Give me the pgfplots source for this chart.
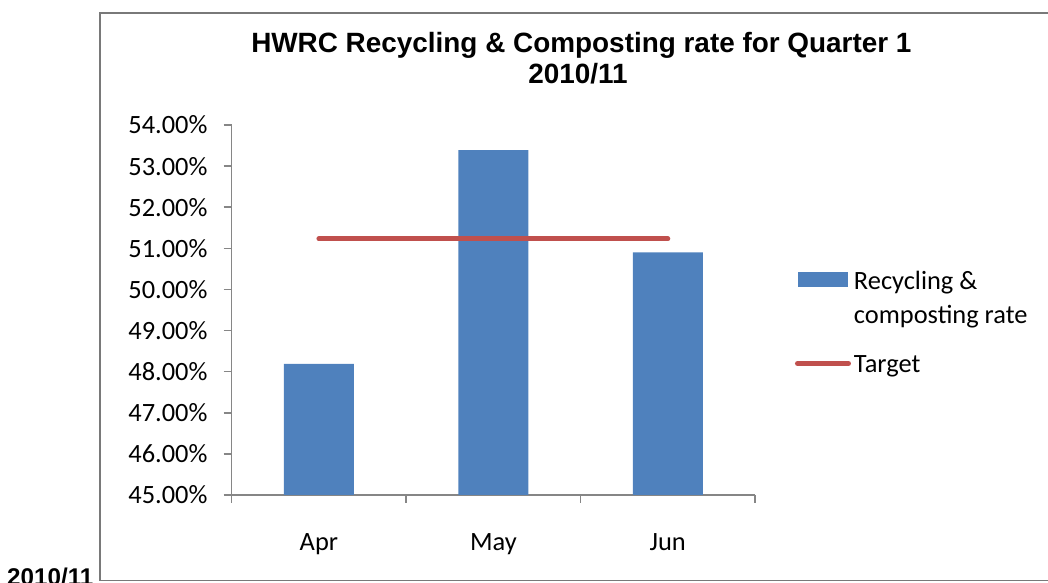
\documentclass[border=0pt]{standalone}
\usepackage{fontspec}
\setmainfont{Carlito}
\newfontfamily\arialfont{Liberation Sans}
\usepackage{pgfplots}
\pgfplotsset{compat=1.18}
\definecolor{barblue}{HTML}{4F81BD}
\definecolor{tgtred}{HTML}{C0504D}
\definecolor{axgray}{HTML}{868686}
\newcommand\lbl{\fontsize{26.5}{34}\selectfont}
\begin{document}
\begin{tikzpicture}[x=1bp,y=1bp]
\path[use as bounding box] (0,0) rectangle (1048,583);
\draw[axgray!90!black, line width=1.5bp] (1050,570) -- (100,570) -- (100,2.3) -- (1050,2.3);
\node[anchor=base west, font=\arialfont\bfseries\fontsize{24.3}{29}\selectfont, inner sep=0] at (7,-2.4) {2010/11};
\node[anchor=base, font=\arialfont\bfseries\fontsize{28}{34}\selectfont, inner sep=0] at (581.4,530) {HWRC Recycling \& Composting rate for Quarter 1};
\node[anchor=base, font=\arialfont\bfseries\fontsize{28}{34}\selectfont, inner sep=0] at (578,499) {2010/11};
\begin{axis}[
  at={(231.7bp,88bp)}, anchor=south west, scale only axis,
  width=523.3bp, height=370bp,
  xmin=-0.5, xmax=2.5, ymin=45, ymax=54,
  axis lines*=left,
  axis line style={axgray, line width=1.5bp},
  tick align=outside,
  major tick length=8bp,
  tick style={axgray, line width=1.5bp},
  ytick={45,46,47,48,49,50,51,52,53,54},
  yticklabels={45.00\%,46.00\%,47.00\%,48.00\%,49.00\%,50.00\%,51.00\%,52.00\%,53.00\%,54.00\%},
  yticklabel style={font=\lbl, anchor=east, inner sep=0, xshift=-16bp},
  xtick={-0.5,0.5,1.5,2.5},
  xticklabels={},
  extra x ticks={0,1,2},
  extra x tick labels={Apr,May,Jun},
  extra x tick style={tick style={draw=none}},
  xticklabel style={font=\lbl, anchor=base, inner sep=0, yshift=-48bp},
  legend style={at={(1.0764,0.6186)}, anchor=north west, draw=none, fill=none,
    inner sep=0pt, outer sep=0pt, font=\lbl, row sep=64bp, column sep=3bp,
    nodes={inner sep=0pt}, cells={anchor=base west}},
  legend cell align=left,
]
\addplot[ybar, bar width=70bp, fill=barblue, draw=none,
  legend image code/.code={\fill[barblue] (3bp,-8bp) rectangle (53bp,7bp);}]
  coordinates {(0,48.19) (1,53.39) (2,50.90)};
\addlegendentry{\begin{tabular}[t]{@{}l@{}}Recycling \&\\composting rate\end{tabular}}
\addplot[tgtred, line width=5bp, line cap=round, sharp plot, mark=none,
  legend image code/.code={\draw[tgtred, line width=5bp, line cap=round] (2.5bp,1bp) -- (53.5bp,1bp);}]
  coordinates {(0,51.23) (1,51.23) (2,51.23)};
\addlegendentry{Target}
\end{axis}
\end{tikzpicture}
\end{document}
